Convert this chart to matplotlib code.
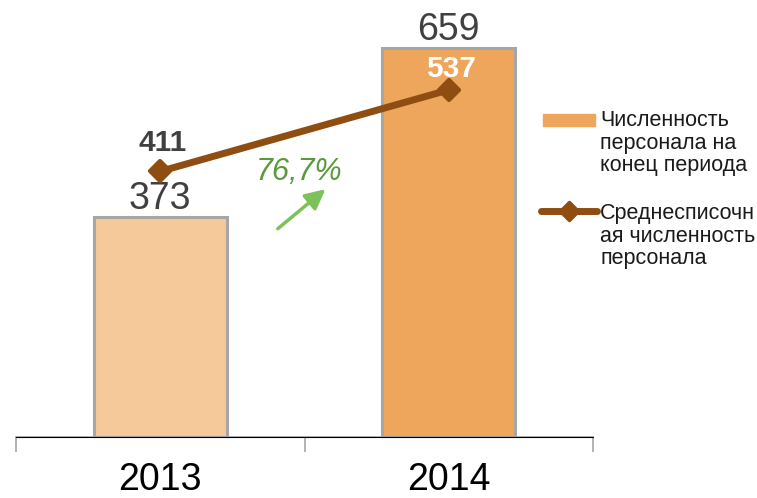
import matplotlib
matplotlib.use("Agg")
import matplotlib.pyplot as plt
from matplotlib.patches import Rectangle
from matplotlib.lines import Line2D
from matplotlib.markers import MarkerStyle

plt.rcParams['font.family'] = ['Liberation Sans', 'DejaVu Sans']

years = ["2013", "2014"]
headcount_end = [373, 659]
headcount_avg = [411, 537]
growth_label = "76,7%"
legend_labels = ["Численность\nперсонала на\nконец периода",
                 "Среднесписочн\nая численность\nперсонала"]

bar_colors = ["#F5C99A", "#EDA65C"]
line_color = "#8F4D12"
W, H = 757, 498
fig = plt.figure(figsize=(W / 100, H / 100), dpi=100)
ax = fig.add_axes([16 / W, 61 / H, (593 - 16) / W, (437 - 24) / H])
ax2 = ax.twinx()

x = list(range(len(years)))
ax.bar(x, headcount_end, width=0.46, color=bar_colors, edgecolor="#A6A6A6",
       linewidth=2.2, zorder=2)
ax.set_xlim(-0.5, 1.5)
ax.set_ylim(0, 700)
ax2.set_ylim(0, 639)

diamond = MarkerStyle("D", joinstyle="round")
ax2.plot(x, headcount_avg, color=line_color, lw=5, marker=diamond, markersize=10,
         markeredgewidth=3, markeredgecolor=line_color, markerfacecolor=line_color,
         solid_joinstyle="round", solid_capstyle="round", zorder=3)

for a in (ax, ax2):
    for s in ["left", "right", "top"]:
        a.spines[s].set_visible(False)
    a.set_yticks([])
ax.spines["bottom"].set_color("#A6A6A6")
ax.spines["bottom"].set_linewidth(1.2)
ax.set_xticks([-0.5, 0.5, 1.5])
ax.set_xticklabels([])
ax.tick_params(axis="x", length=11, width=1.2, color="#A6A6A6", direction="out")
for xi, lab in zip(x, years):
    ax.annotate(lab, (xi, 0), xytext=(0, -18), textcoords="offset points",
                ha="center", va="top", fontsize=27, color="#000000")

# bar value labels
for xi, v in zip(x, headcount_end):
    ax.annotate(str(v), (xi, v), xytext=(0, 0), textcoords="offset points",
                ha="center", va="bottom", fontsize=27, color="#404040")

# line value labels
line_label_colors = ["#404040", "#FFFFFF"]
line_label_offsets = [10, 5]
for xi, v, c, off in zip(x, headcount_avg, line_label_colors, line_label_offsets):
    ax2.annotate(str(v), (xi, v), xytext=(2, off), textcoords="offset points",
                 ha="center", va="bottom", fontsize=21.5, fontweight="bold", color=c)

# growth annotation
ax.text(0.481, 449, growth_label, ha="center", va="center", fontsize=22,
        style="italic", color="#5A9A3A")
ax.annotate("", xy=(0.58, 423), xytext=(0.400, 350),
            arrowprops=dict(arrowstyle="-|>,head_length=1.2,head_width=0.6",
                            color="#7DC15A", lw=2.5))

# legend (manual)
fig.add_artist(Rectangle((543 / W, 1 - 126 / H), 52 / W, 12 / H,
                         transform=fig.transFigure, color="#EDA65C"))
fig.add_artist(Line2D([541 / W, 597 / W], [1 - 211 / H] * 2, transform=fig.transFigure,
                      color=line_color, lw=5, solid_capstyle="round"))
fig.add_artist(Line2D([569 / W], [1 - 211 / H], transform=fig.transFigure,
                      color=line_color, marker=diamond, markersize=9,
                      markeredgewidth=2.5))
fig.text(600 / W, 1 - 110 / H, legend_labels[0], va="top", ha="left",
         fontsize=15.5, linespacing=1.1, color="#1A1A1A")
fig.text(600 / W, 1 - 203 / H, legend_labels[1], va="top", ha="left",
         fontsize=15.5, linespacing=1.1, color="#1A1A1A")

fig.savefig("out.png", dpi=100)
